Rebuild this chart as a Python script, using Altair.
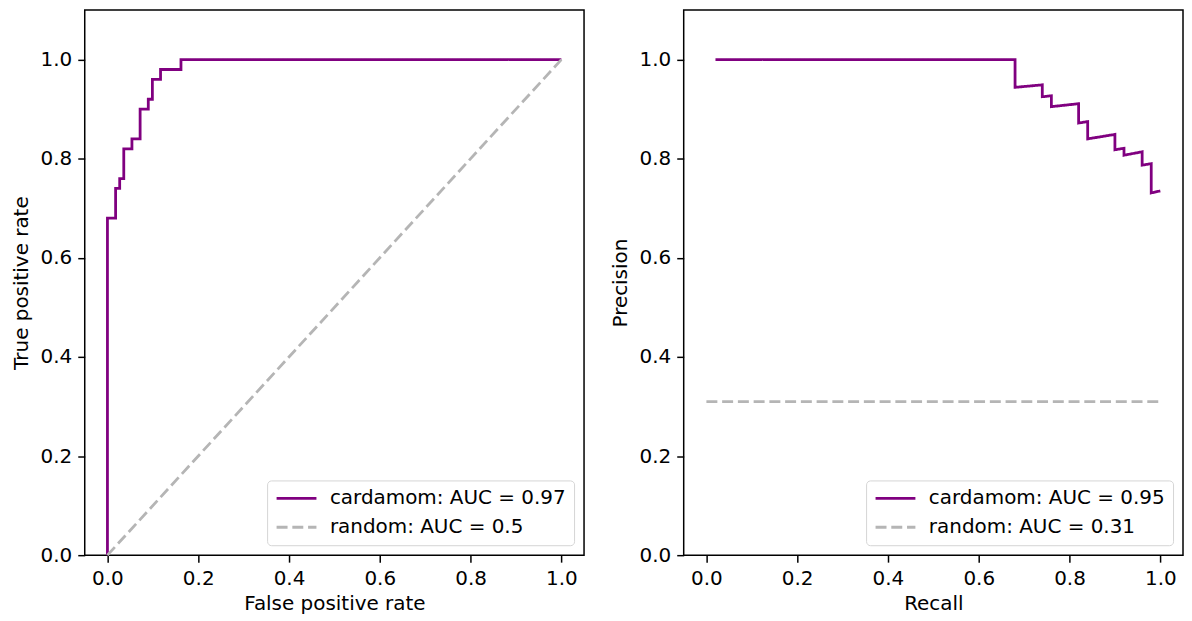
import altair as alt
import pandas as pd

# ROC curve (step-after vertices)
roc_fpr = [0.0, 0.0, 0.018, 0.027, 0.036, 0.054, 0.072, 0.090, 0.099, 0.117, 0.162, 1.0]
roc_tpr = [0.0, 0.68, 0.74, 0.76, 0.82, 0.84, 0.90, 0.92, 0.96, 0.98, 1.0, 1.0]
roc_random_x = [0.0, 1.0]
roc_random_y = [0.0, 1.0]

# Precision-recall curve
pr_recall = [0.02, 0.68, 0.68, 0.74, 0.74, 0.76, 0.76, 0.82, 0.82, 0.84, 0.84,
             0.90, 0.90, 0.92, 0.92, 0.96, 0.96, 0.98, 0.98, 1.0]
pr_precision = [1.0, 1.0, 0.944, 0.949, 0.925, 0.927, 0.905, 0.911, 0.872, 0.875, 0.840,
                0.849, 0.818, 0.821, 0.807, 0.814, 0.787, 0.790, 0.731, 0.735]
pr_random_x = [0.0, 1.0]
pr_random_y = [0.31, 0.31]

roc_labels = ["cardamom: AUC = 0.97", "random: AUC = 0.5"]
pr_labels = ["cardamom: AUC = 0.95", "random: AUC = 0.31"]

PURPLE = "#800080"
GRAY = "#b5b5b5"
FONT = "DejaVu Sans"

tick_vals = [0.0, 0.2, 0.4, 0.6, 0.8, 1.0]


def make_df(xs, ys, label):
    return pd.DataFrame({"x": xs, "y": ys, "series": label, "i": list(range(len(xs)))})


def panel(curve_df, rand_df, labels, xtitle, ytitle, interp):
    color = alt.Color(
        "series:N",
        scale=alt.Scale(domain=labels, range=[PURPLE, GRAY]),
        legend=alt.Legend(
            title=None,
            orient="bottom-right",
            offset=10,
            symbolType="stroke",
            symbolSize=1600,
            symbolStrokeWidth=2.8,
            clipHeight=20,
            labelFont=FONT,
            labelFontSize=20,
            labelColor="black",
            labelLimit=0,
            labelOffset=12,
            rowPadding=9,
            padding=8,
            fillColor="white",
            strokeColor="#d5d5d5",
            cornerRadius=4,
        ),
    )
    dash = alt.StrokeDash(
        "series:N",
        scale=alt.Scale(domain=labels, range=[[1, 0], [11, 4.8]]),
        legend=None,
    )
    x = alt.X(
        "x:Q",
        scale=alt.Scale(domain=[-0.05, 1.05], nice=False, zero=False),
        axis=alt.Axis(values=tick_vals, format=".1f", title=xtitle, labelFlush=False),
    )
    y = alt.Y(
        "y:Q",
        scale=alt.Scale(domain=[0, 1.1], nice=False),
        axis=alt.Axis(values=tick_vals, format=".1f", title=ytitle),
    )
    curve = alt.Chart(curve_df).mark_line(strokeWidth=2.8, interpolate=interp).encode(
        x=x, y=y, color=color, strokeDash=dash, order="i:Q"
    )
    rand = alt.Chart(rand_df).mark_line(strokeWidth=2.8).encode(
        x=x, y=y, color=color, strokeDash=dash, order="i:Q"
    )
    return alt.layer(curve, rand).properties(width=501, height=547)


roc_curve_df = make_df(roc_fpr, roc_tpr, roc_labels[0])
roc_rand_df = make_df(roc_random_x, roc_random_y, roc_labels[1])
pr_curve_df = make_df(pr_recall, pr_precision, pr_labels[0])
pr_rand_df = make_df(pr_random_x, pr_random_y, pr_labels[1])

left = panel(roc_curve_df, roc_rand_df, roc_labels, "False positive rate", "True positive rate", "step-after")
right = panel(pr_curve_df, pr_rand_df, pr_labels, "Recall", "Precision", "linear")

chart = (
    alt.hconcat(left, right, spacing=100, bounds="flush")
    .resolve_scale(color="independent", strokeDash="independent")
    .resolve_legend(color="independent", strokeDash="independent")
    .properties(padding={"left": 2, "top": 0, "right": 0, "bottom": 0})
    .configure_view(stroke="black", strokeWidth=1.5)
    .configure_axis(
        grid=False,
        domain=False,
        ticks=True,
        tickColor="black",
        tickWidth=1.5,
        tickSize=7,
        labelPadding=6,
        labelFont=FONT,
        labelFontSize=20,
        labelColor="black",
        titleFont=FONT,
        titleFontSize=20,
        titleFontWeight="normal",
        titleColor="black",
    )
    .configure_axisY(titlePadding=9)
    .configure_axisX(titlePadding=6)
)

chart.save("out.html", embed_options={"renderer": "svg", "actions": False})
